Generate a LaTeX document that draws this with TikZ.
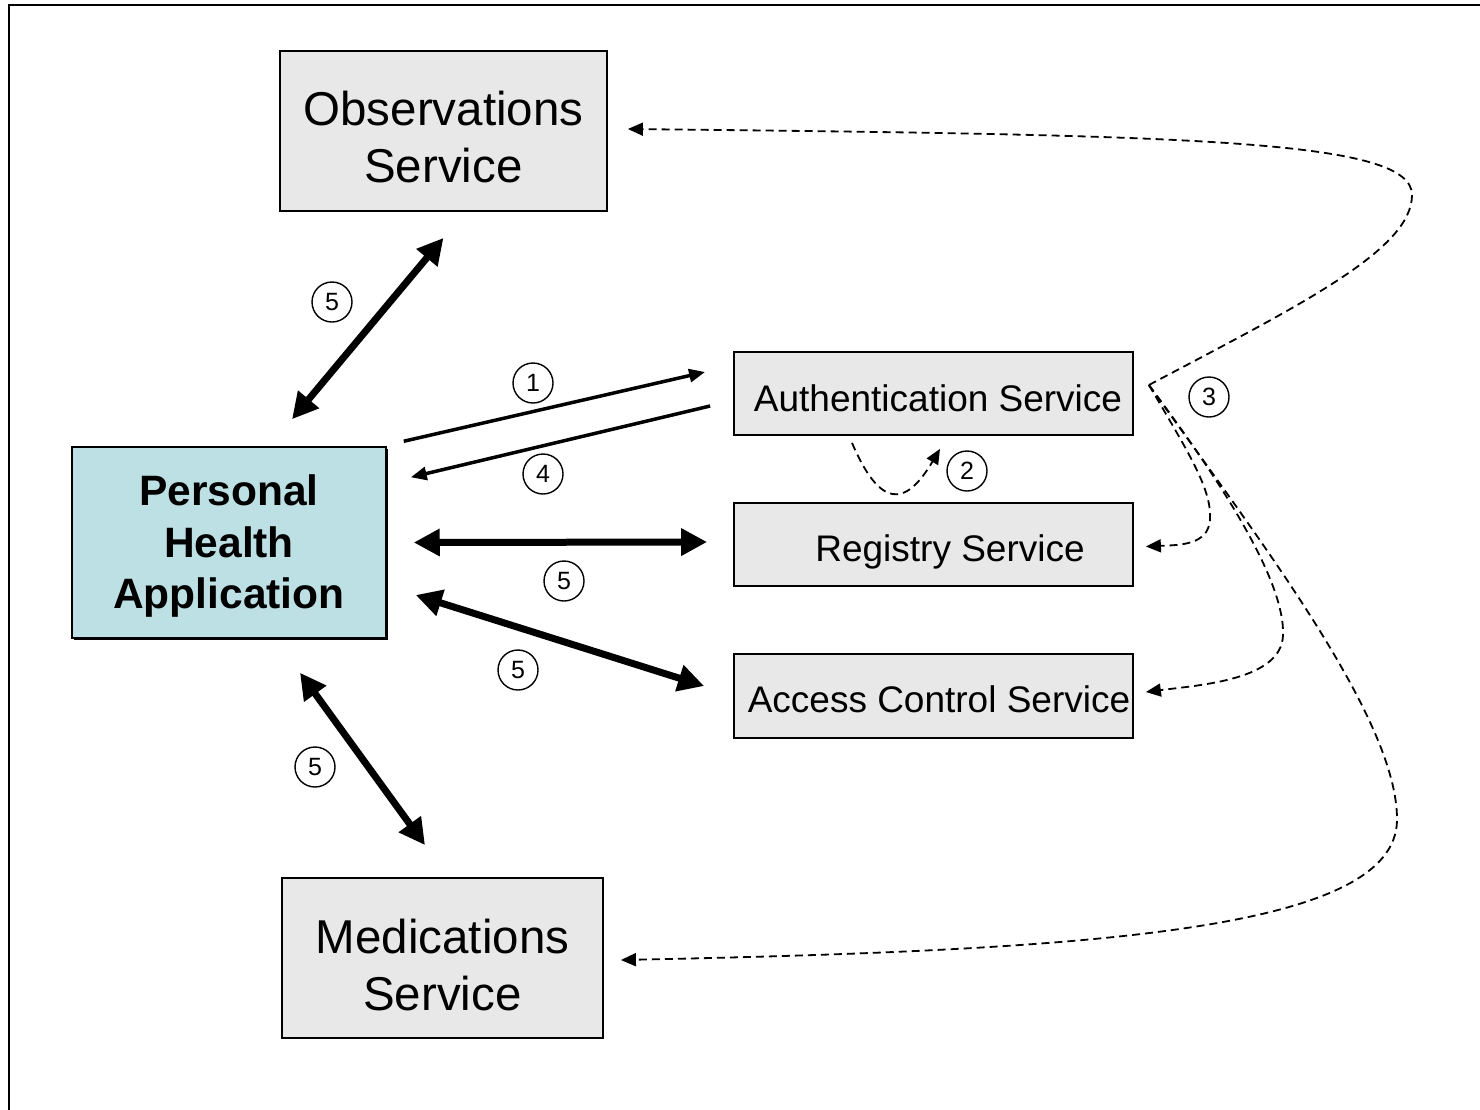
\documentclass[tikz,border=0pt]{standalone}
\usepackage{fontspec}
\setmainfont{Liberation Sans}
\usetikzlibrary{arrows.meta,calc,shadows}
\definecolor{boxgray}{HTML}{E8E8E8}
\definecolor{phacol}{HTML}{BCE0E3}
\tikzset{
  svcbox/.style={draw=black, line width=1.8pt, fill=boxgray, inner sep=0pt},
  txt/.style={align=center, inner sep=0pt},
  bigtxt/.style={txt, font=\fontsize{47.5}{57}\selectfont},
  smalltxt/.style={txt, font=\fontsize{37}{44}\selectfont},
  phatxt/.style={txt, font=\fontsize{42.5}{51.5}\selectfont\bfseries},
  phabox/.style={draw=black, line width=1.5pt, fill=phacol, inner sep=0pt,
    drop shadow={shadow xshift=1.8pt, shadow yshift=-1.8pt, fill=black, opacity=1}},
  numc/.style={circle, draw=black, line width=1.4pt, minimum size=40pt, inner sep=0pt,
    font=\fontsize{25}{30}\selectfont},
  thickarrow/.style={line width=7pt, {Triangle[length=26pt,width=26pt]}-{Triangle[length=26pt,width=26pt]}},
  thinarrow/.style={line width=3.5pt, -{Triangle[length=16pt,width=13pt]}},
  dasharrow/.style={line width=1.8pt, dash pattern=on 8pt off 5pt, -{Triangle[length=15pt,width=13pt]}},
}
\begin{document}
\begin{tikzpicture}[x=1pt,y=-1pt]
\useasboundingbox (0,0) rectangle (1480,1109);
\clip (0,0) rectangle (1480,1109);
\fill[white] (0,0) rectangle (1480,1109);
\draw[line width=2.5pt] (9,5) rectangle (1520,1140);

% boxes
\node[svcbox, minimum width=327pt, minimum height=160pt,
  label={[bigtxt, yshift=-6pt]center:Observations\\Service}] (obs) at (443.5,131) {};
\node[svcbox, minimum width=321pt, minimum height=160pt,
  label={[bigtxt, yshift=-7pt]center:Medications\\Service}] (med) at (442.5,958) {};
\node[phabox, minimum width=314pt, minimum height=191pt,
  label={[phatxt, yshift=-4pt]center:Personal\\Health\\Application}] (pha) at (229,542.5) {};
\node[svcbox, minimum width=399pt, minimum height=83pt,
  label={[smalltxt, xshift=4.5pt, yshift=-5pt]center:Authentication Service}] (auth) at (933.5,393.5) {};
\node[svcbox, minimum width=399pt, minimum height=83pt,
  label={[smalltxt, xshift=16.5pt, yshift=-7pt]center:Registry Service}] (reg) at (933.5,544.5) {};
\node[svcbox, minimum width=399pt, minimum height=84pt,
  label={[smalltxt, xshift=5.5pt, yshift=-3pt]center:Access Control Service}] (acs) at (933.5,696) {};

% solid connectors
\draw[thickarrow] ($(obs.south)+(0,26)$) -- ($(pha.north)+(63,-27)$);
\draw[thinarrow] ($(pha.north east)+(17,-5)$) -- ($(auth.west)+(-28,-21.5)$);
\draw[thinarrow] ($(auth.west)+(-23,12.5)$) -- ($(pha.north east)+(24,31)$);
\draw[thickarrow] ($(pha.east)+(27,0)$) -- ($(reg.west)+(-26,-2.5)$);
\draw[thickarrow] ($(pha.east)+(29,52.5)$) -- ($(acs.west)+(-29,-10)$);
\draw[thickarrow] ($(pha.south)+(71,34)$) -- ($(med.north)+(-17.5,-32)$);

% dashed connectors
\coordinate (a2s) at ($(auth.south)+(-81.5,7)$);
\coordinate (a2e) at ($(auth.south)+(6.5,13)$);
\draw[dasharrow] (a2s) .. controls (880,508) and (905,508) .. (a2e);

\coordinate (hub) at ($(auth.east)+(15,-8.5)$);
\coordinate (obsend) at ($(obs.east)+(20,-2)$);
\coordinate (regend) at ($(reg.east)+(12,2)$);
\coordinate (acsend) at ($(acs.east)+(12,-4)$);
\coordinate (medend) at ($(med.east)+(17,2)$);
\draw[dasharrow] (hub) .. controls (1300,305) and (1412,250) .. (1412,195)
  .. controls (1412,140) and (1200,135) .. (obsend);
\draw[dasharrow] (hub) .. controls (1190,455) and (1212,490) .. (1210,520)
  .. controls (1208,545) and (1180,545) .. (regend);
\draw[dasharrow] (hub) .. controls (1220,480) and (1285,580) .. (1283,635)
  .. controls (1282,680) and (1200,685) .. (acsend);
\draw[dasharrow] (hub) .. controls (1260,540) and (1398,720) .. (1397,820)
  .. controls (1396,930) and (1100,950) .. (medend);

% numbers
\node[numc] (n5a) at (332,302) {5};
\node[numc] (n1) at (533,383) {1};
\node[numc] (n4) at (543,474) {4};
\node[numc] (n2) at (967,471) {2};
\node[numc] (n3) at (1209,397) {3};
\node[numc] (n5b) at (564,581) {5};
\node[numc] (n5c) at (518,670) {5};
\node[numc] (n5d) at (315,767) {5};
\end{tikzpicture}
\end{document}
